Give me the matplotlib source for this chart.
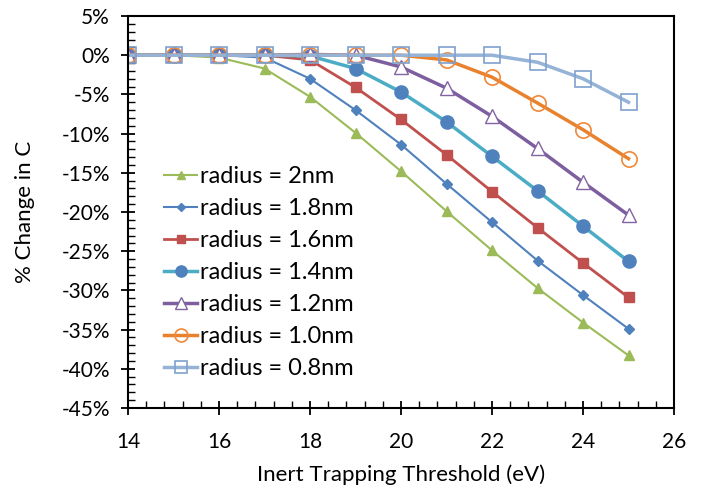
import matplotlib.pyplot as plt
from matplotlib.ticker import MultipleLocator, PercentFormatter

# Data
threshold = [14, 15, 16, 17, 18, 19, 20, 21, 22, 23, 24, 25]

r_2_0 = [0, 0, -0.3, -1.7, -5.3, -9.9, -14.8, -19.9, -24.9, -29.7, -34.1, -38.3]
r_1_8 = [0, 0, 0, -0.3, -3.0, -7.0, -11.4, -16.4, -21.3, -26.2, -30.6, -34.9]
r_1_6 = [0, 0, 0, 0, -0.6, -4.1, -8.2, -12.7, -17.4, -22.0, -26.5, -30.9]
r_1_4 = [0, 0, 0, 0, -0.1, -1.7, -4.7, -8.5, -12.9, -17.3, -21.8, -26.3]
r_1_2 = [0, 0, 0, 0, 0.1, 0, -1.5, -4.2, -7.8, -11.9, -16.2, -20.4]
r_1_0 = [0, 0, 0, 0, 0, 0, 0, -0.6, -2.8, -6.1, -9.5, -13.2]
r_0_8 = [0, 0, 0, 0, 0, 0, 0, 0, 0, -0.9, -3.0, -6.0]

labels = ["radius = 2nm", "radius = 1.8nm", "radius = 1.6nm", "radius = 1.4nm",
          "radius = 1.2nm", "radius = 1.0nm", "radius = 0.8nm"]

plt.rcParams['font.family'] = ['Lato', 'DejaVu Sans']
plt.rcParams['axes.unicode_minus'] = False

fig = plt.figure(figsize=(7.09, 4.96), dpi=100)
ax = fig.add_axes([128 / 709, 1 - 408 / 496, (674 - 128) / 709, (408 - 16) / 496])

# Series
ax.plot(threshold, r_2_0, color="#9BBB59", lw=1.5, marker="^", ms=7, label=labels[0])
ax.plot(threshold, r_1_8, color="#4F81BD", lw=1.5, marker="D", ms=5, label=labels[1])
ax.plot(threshold, r_1_6, color="#C0504D", lw=2, marker="s", ms=7.5, label=labels[2])
ax.plot(threshold, r_1_4, color="#4BACC6", lw=2.5, marker="o", ms=9.5,
        mfc="#4F81BD", mec="#4F81BD", label=labels[3])
ax.plot(threshold, r_1_2, color="#7D5FA0", lw=2.5, marker="^", ms=10,
        mfc="white", mec="#8064A2", mew=1, label=labels[4])
ax.plot(threshold, r_1_0, color="#E8822E", lw=2.5, marker="o", ms=11,
        mfc="none", mec="#F0883A", mew=1.2, label=labels[5])
ax.plot(threshold, r_0_8, color="#95B3D7", lw=2.5, marker="s", ms=11,
        mfc="none", mec="#7FA1D0", mew=1.2, label=labels[6])

# Axes formatting
ax.set_xlim(14, 26)
ax.set_ylim(-45, 5)
ax.xaxis.set_major_locator(MultipleLocator(2))
ax.xaxis.set_minor_locator(MultipleLocator(0.4))
ax.yaxis.set_major_locator(MultipleLocator(5))
ax.yaxis.set_minor_locator(MultipleLocator(1))
ax.yaxis.set_major_formatter(PercentFormatter(decimals=0))

ax.tick_params(which="major", direction="inout", length=10, width=1.3, labelsize=15)
ax.tick_params(axis="x", which="major", pad=12)
ax.tick_params(axis="y", which="major", pad=8)
ax.tick_params(which="minor", direction="in", length=5, width=1.0)
for side in ["left", "bottom", "top", "right"]:
    ax.spines[side].set_linewidth(1.5)

ax.set_xlabel("Inert Trapping Threshold (eV)", fontsize=16, labelpad=9)
ax.set_ylabel("% Change in C", fontsize=16, labelpad=19)

ax.legend(loc="upper left", bbox_to_anchor=(0.045, 0.648), frameon=False, fontsize=17,
          handlelength=1.4, handletextpad=0.1, labelspacing=0.47, borderpad=0,
          markerscale=0.85)

fig.savefig("out.png", dpi=100)
